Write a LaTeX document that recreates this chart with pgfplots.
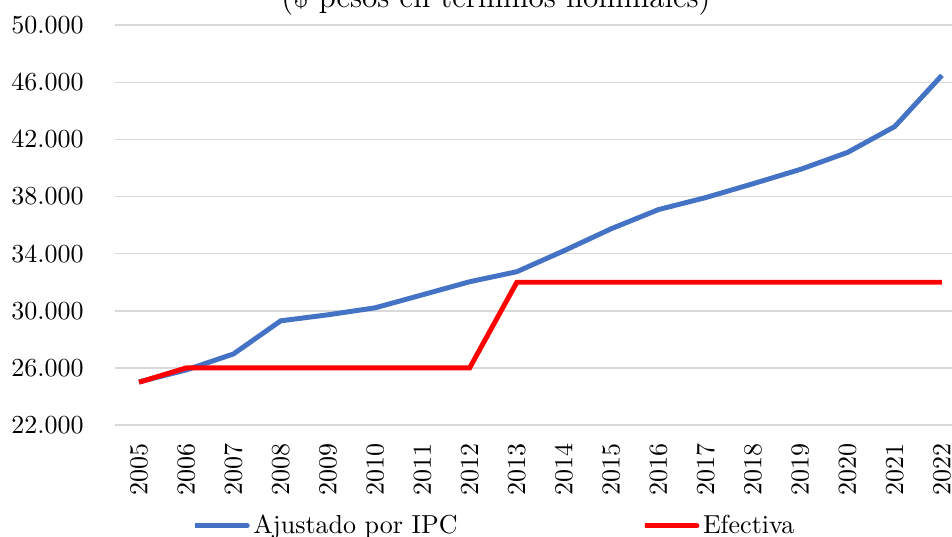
\documentclass[border=0pt]{standalone}
\usepackage{fontspec}
\usepackage{pgfplots}
\pgfplotsset{compat=1.18}
\definecolor{ipcblue}{RGB}{68,114,196}
\definecolor{gridgray}{RGB}{217,217,217}
\begin{document}
\begin{tikzpicture}
\begin{axis}[
  at={(0,0)}, anchor=south west,
  scale only axis, width=327.0pt, height=153.8pt,
  xmin=2004.5, xmax=2022.5, ymin=22000, ymax=50000,
  xtick={2005,2006,...,2022}, ytick={22000,26000,...,50000},
  scaled y ticks=false,
  xticklabel style={/pgf/number format/1000 sep={}, yshift=-3.7pt, rotate=90, anchor=east},
  yticklabel style={/pgf/number format/1000 sep={.}, xshift=-8.7pt},
  axis line style={draw=none},
  major tick length=0pt,
  ymajorgrids, xmajorgrids=false,
  major grid style={gridgray, line width=0.6pt},
  legend columns=2,
  legend cell align=left,
  legend style={draw=none, fill=none, at={(0.0901,-0.252)}, anchor=west, inner sep=0pt,
    /tikz/every even column/.append style={column sep=69pt}},
  legend image code/.code={\path (0pt,0pt) -- (19.5pt,0pt);
    \draw[#1, overlay, line cap=round] (0.9pt,0pt) -- (20.1pt,0pt);},
]
\addplot[ipcblue, line width=1.9pt] coordinates {
 (2005,25020) (2006,25860) (2007,26980) (2008,29300) (2009,29720) (2010,30210)
 (2011,31120) (2012,32035) (2013,32740) (2014,34210) (2015,35750) (2016,37090)
 (2017,37930) (2018,38900) (2019,39900) (2020,41090) (2021,42900) (2022,46490)};
\addlegendentry{Ajustado por IPC}
\addplot[red, line width=1.9pt] coordinates {
 (2005,25000) (2006,26000) (2007,26000) (2008,26000) (2009,26000) (2010,26000)
 (2011,26000) (2012,26000) (2013,32000) (2014,32000) (2015,32000) (2016,32000)
 (2017,32000) (2018,32000) (2019,32000) (2020,32000) (2021,32000) (2022,32000)};
\addlegendentry{Efectiva}
\end{axis}
\node[anchor=base, font=\fontsize{12}{14}\selectfont] at (146.4pt,160.6pt) {(\$ pesos en términos nominales)};
\pgfresetboundingbox
\useasboundingbox (-44.4pt,-42.7pt) rectangle (321.8pt,163.5pt);
\end{tikzpicture}
\end{document}
